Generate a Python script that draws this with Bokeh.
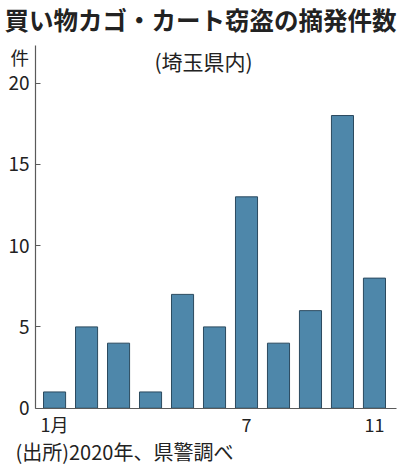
from bokeh.plotting import figure
from bokeh.models import Label, FixedTicker, Range1d
from bokeh.embed import file_html
from bokeh.resources import INLINE

# ---- data ----
months = [1, 2, 3, 4, 5, 6, 7, 8, 9, 10, 11]
counts = [1, 5, 4, 1, 7, 5, 13, 4, 6, 18, 8]
x_tick_values = [1, 7, 11]
x_tick_labels = {1: "1月", 7: "7", 11: "11"}
y_tick_values = [0, 5, 10, 15, 20]
title_text = "買い物カゴ・カート窃盗の摘発件数"
subtitle_text = "(埼玉県内)"
unit_text = "件"
source_text = "(出所)2020年、県警調べ"

# ---- layout (pixel geometry) ----
W, H = 401, 466
AX_LEFT_PX = 35.0      # y axis position
AX_RIGHT_PX = 396.0    # end of x axis line
ZERO_PX = 407.7        # y = 0
TOP_PX = 45.0          # top of y axis line
XL = 0.404             # data x at the y axis
SX = 31.99             # px per month
SY = 16.26             # px per count

x_start = XL - AX_LEFT_PX / SX
x_end = XL + (W - AX_LEFT_PX) / SX
y_start = (ZERO_PX - H) / SY
y_end = ZERO_PX / SY
x_axis_end = XL + (AX_RIGHT_PX - AX_LEFT_PX) / SX
y_axis_top = (ZERO_PX - TOP_PX) / SY

FONT = "Noto Sans CJK JP"
BAR = "#4e87aa"
EDGE = "#2b4a5f"
AX = "#5a5a5a"
TXT = "#222222"

p = figure(width=W, height=H, output_backend="svg", toolbar_location=None,
           x_range=Range1d(x_start, x_end), y_range=Range1d(y_start, y_end),
           min_border=0)
p.outline_line_color = None
p.grid.visible = False
p.background_fill_color = "white"
p.border_fill_color = "white"

p.vbar(x=months, top=counts, width=0.69, fill_color=BAR, line_color=EDGE, line_width=1)

# axes (fixed inside the frame so that outer texts are not clipped)
p.xaxis.fixed_location = 0
p.xaxis.bounds = (XL, x_axis_end)
p.xaxis.ticker = FixedTicker(ticks=x_tick_values)
p.xaxis.major_label_overrides = x_tick_labels
p.xaxis.major_tick_in = 0
p.xaxis.major_tick_out = 0
p.xaxis.minor_tick_line_color = None
p.xaxis.axis_line_color = AX
p.xaxis.axis_line_width = 1.2
p.xaxis.major_label_text_font = FONT
p.xaxis.major_label_text_font_size = "18px"
p.xaxis.major_label_text_color = TXT
p.xaxis.major_label_standoff = 3

p.yaxis.fixed_location = XL
p.yaxis.bounds = (0, y_axis_top)
p.yaxis.ticker = FixedTicker(ticks=y_tick_values)
p.yaxis.major_tick_in = 5
p.yaxis.major_tick_out = 0
p.yaxis.major_tick_line_color = AX
p.yaxis.minor_tick_line_color = None
p.yaxis.axis_line_color = AX
p.yaxis.axis_line_width = 1.2
p.yaxis.major_label_text_font = FONT
p.yaxis.major_label_text_font_size = "19px"
p.yaxis.major_label_text_color = TXT
p.yaxis.major_label_standoff = 6


def dx(px):
    return XL + (px - AX_LEFT_PX) / SX


def dy(py):
    return (ZERO_PX - py) / SY


def add_text(text, px, py, size, bold=False):
    p.add_layout(Label(x=dx(px), y=dy(py), text=text, text_font=FONT,
                       text_font_size=size, text_color=TXT,
                       text_font_style="bold" if bold else "normal",
                       text_align="left", text_baseline="middle"))


add_text(title_text, 4, 18.5, "24.5px", bold=True)
add_text(subtitle_text, 154, 60, "21px")
add_text(unit_text, 10, 56.5, "18.5px")
add_text(source_text, 15, 450.5, "20px")

open("out.html", "w").write(file_html(p, INLINE))
